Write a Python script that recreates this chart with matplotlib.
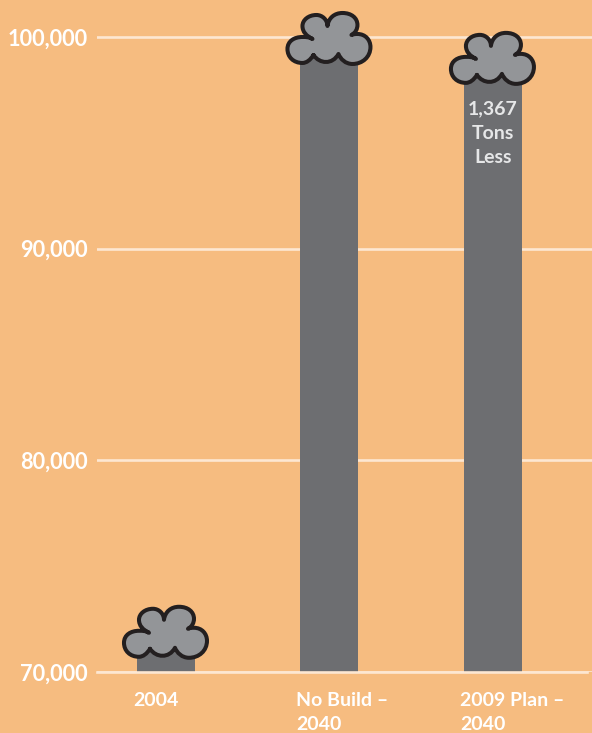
import matplotlib
matplotlib.use("Agg")
import matplotlib.pyplot as plt
from matplotlib.path import Path
from matplotlib.patches import PathPatch
from matplotlib.transforms import Affine2D, ScaledTranslation

categories = ["2004", "No Build –\n2040", "2009 Plan –\n2040"]
tons = [71900, 99950, 99010]
y_ticks = [70000, 80000, 90000, 100000]
y_labels = ["70,000", "80,000", "90,000", "100,000"]
note = "1,367\nTons\nLess"

BG = "#F6BC80"
BAR = "#6D6E71"
CLOUD = "#939598"
EDGE = "#231F20"
LINE = "#FDE7D2"
NOTE = "#E6E7E8"
FONT = "Lato"

# cloud outline, pixels around the cloud centre (y down)
cloud_pts = [
    (-16, 17),
    (-19, 22), (-23, 25), (-27, 25),
    (-36, 25), (-42, 19), (-42, 11),
    (-42, 3), (-35, -1), (-27, -1),
    (-23, -1), (-20, -1), (-17, 1),
    (-23, -2), (-27, -6), (-27, -12),
    (-27, -18), (-21, -23), (-13, -23),
    (-7, -23), (-2, -18), (-2, -12),
    (-1, -20), (5, -25), (13, -25),
    (22, -25), (28, -20), (28, -13),
    (28, -9), (26, -5), (22, -3),
    (24, -4), (26, -4), (28, -4),
    (36, -4), (41, 2), (41, 9),
    (41, 19), (33, 26), (23, 26),
    (16, 26), (11, 21), (9, 16),
    (3, 27), (-10, 26), (-16, 17),
]
cloud_codes = [Path.MOVETO] + [Path.CURVE4] * (len(cloud_pts) - 1)
cloud_path = Path(cloud_pts, cloud_codes)

fig = plt.figure(figsize=(5.92, 7.33), dpi=100, facecolor=BG)
ax = fig.add_axes([97 / 592, 1 - 672 / 733, (592 - 97) / 592, 672 / 733])
ax.set_facecolor(BG)

x = list(range(len(categories)))
ax.set_xlim(-0.422, 2.606)
ax.set_ylim(70000, 101744)

ax.bar(x, tons, width=0.355, color=BAR, zorder=2)
ax.grid(axis="y", color=LINE, linewidth=1.9, zorder=1)
ax.set_axisbelow(True)

for s in ["top", "left", "right"]:
    ax.spines[s].set_visible(False)
ax.spines["bottom"].set_color(LINE)
ax.spines["bottom"].set_linewidth(1.9)
ax.spines["bottom"].set_bounds(-0.422, 2.575)
ax.spines["bottom"].set_zorder(3)

ax.set_yticks(y_ticks, y_labels)
ax.tick_params(axis="y", length=0, pad=6.5, labelsize=15.7, labelcolor="white")
ax.set_xticks(x, categories)
ax.tick_params(axis="x", length=0, pad=14.5, labelsize=14, labelcolor="white")
for lab in ax.get_yticklabels():
    lab.set_fontfamily(FONT)
    lab.set_fontweight("bold")
    lab.set_va("center_baseline")
for lab in ax.get_xticklabels():
    lab.set_fontfamily(FONT)
    lab.set_fontweight("bold")
    lab.set_ha("left")
    lab.set_linespacing(1.48)
    lab.set_transform(lab.get_transform() + ScaledTranslation(-33 / 100, 0, fig.dpi_scale_trans))

# one cloud sitting on each bar
for xi, val in zip(x, tons):
    cx, cy = ax.transData.transform((xi, val))
    tr = Affine2D().scale(1, -1).translate(cx, cy)
    ax.add_patch(PathPatch(cloud_path, facecolor=CLOUD, edgecolor=EDGE, linewidth=2.9,
                           joinstyle="round", capstyle="round", transform=tr, zorder=4, clip_on=False))

ax.text(2, 95460, note, color=NOTE, ha="center", va="center", fontsize=14,
        fontfamily=FONT, fontweight="bold", linespacing=1.5, zorder=5)

fig.savefig("out.png", dpi=100, facecolor=BG)
